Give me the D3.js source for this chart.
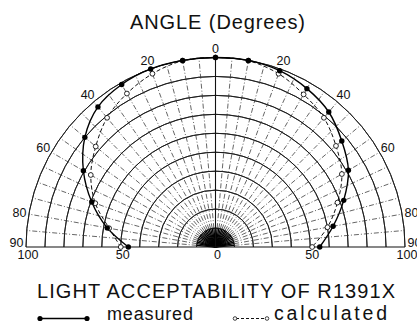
<!DOCTYPE html>
<html>
<head>
<meta charset="utf-8">
<script src="https://cdn.jsdelivr.net/npm/d3@7"></script>
<style>
  html, body { margin: 0; padding: 0; background: #fff; }
  svg { display: block; }
  text { font-family: "Liberation Sans", Arial, Helvetica, sans-serif; fill: #111; }
</style>
</head>
<body>
<script>
// Polar acceptability data: angle from normal (degrees, left side negative) and relative value.
const angles     = [-90, -80, -70, -60, -50, -40, -30, -20, -10, 0, 10, 20, 30, 40, 50, 60, 70, 80, 90];
const measured   = [46, 58, 69.5, 80.5, 90, 96.5, 99, 100, 100, 100, 100, 99, 96.5, 93, 87, 81, 72, 63, 55];
const calculated = [50, 57, 67.5, 76, 82.5, 89, 93.5, 97.3, 99.8, 100, 99.8, 97.3, 93, 89, 83, 77, 68.5, 60, 51];

const angleTicks  = [-90, -80, -60, -40, -20, 0, 20, 40, 60, 80, 90];
const radiusTicks = [-100, -50, 0, 50, 100];

const W = 417, H = 324;
const cx = 215.5, cy = 247;

const svg = d3.select("body").append("svg").attr("width", W).attr("height", H);

const r = d3.scaleLinear().domain([0, 100]).range([0, 189.5]);
const toRad = d => d * Math.PI / 180;
const px = (a, v) => cx + r(v) * Math.sin(toRad(a));
const py = (a, v) => cy - r(v) * Math.cos(toRad(a));

const g = svg.append("g");

// Concentric rings every 10 units
const rings = d3.range(10, 101, 10);
g.selectAll("path.ring").data(rings).enter().append("path")
  .attr("class", "ring")
  .attr("transform", `translate(${cx},${cy})`)
  .attr("d", v => d3.arc()({innerRadius: r(v), outerRadius: r(v), startAngle: -Math.PI / 2, endAngle: Math.PI / 2}))
  .attr("fill", "none").attr("stroke", "#1a1a1a").attr("stroke-width", 0.9);

// Radial spokes every 5 degrees
const spokes = d3.range(-85, 86, 5);
// inner solid part converges into a dark hub
g.selectAll("line.hub").data(spokes).enter().append("line")
  .attr("x1", cx).attr("y1", cy)
  .attr("x2", a => px(a, 10)).attr("y2", a => py(a, 10))
  .attr("stroke", "#000").attr("stroke-width", 1.3);
g.selectAll("line.spoke").data(spokes.filter(a => a !== 0)).enter().append("line")
  .attr("x1", a => px(a, 10)).attr("y1", a => py(a, 10))
  .attr("x2", a => px(a, 100)).attr("y2", a => py(a, 100))
  .attr("stroke", "#333").attr("stroke-width", 0.75)
  .attr("stroke-dasharray", "5,2,1,2");
// vertical 0-degree axis
g.append("line")
  .attr("x1", cx).attr("y1", cy).attr("x2", px(0, 100)).attr("y2", py(0, 100))
  .attr("stroke", "#111").attr("stroke-width", 1.1);
// baseline (90 degrees both sides)
g.append("line")
  .attr("x1", px(-90, 100)).attr("y1", cy).attr("x2", px(90, 100)).attr("y2", cy)
  .attr("stroke", "#111").attr("stroke-width", 1.2);

// Angle labels around the outer ring
g.selectAll("text.ang").data(angleTicks).enter().append("text")
  .attr("class", "ang")
  .attr("x", a => px(a, 105))
  .attr("y", a => Math.min(py(a, 105), cy - 5) + 4.5)
  .attr("text-anchor", "middle")
  .attr("font-size", 12.5)
  .text(a => Math.abs(a));

// Radial value labels along the baseline
g.selectAll("text.rad").data(radiusTicks).enter().append("text")
  .attr("class", "rad")
  .attr("x", v => cx + r(v) + 2)
  .attr("y", 259)
  .attr("text-anchor", "middle")
  .attr("font-size", 12.5)
  .text(v => Math.abs(v));

// Series curves
const pairs = (vals) => angles.map((a, i) => [toRad(a), r(vals[i])]);
const radialLine = d3.lineRadial().curve(d3.curveCatmullRom.alpha(0.5));

const plot = svg.append("g").attr("transform", `translate(${cx},${cy})`);
plot.append("path")
  .attr("d", radialLine(pairs(calculated)))
  .attr("fill", "none").attr("stroke", "#111").attr("stroke-width", 1)
  .attr("stroke-dasharray", "4,2.5");
plot.append("path")
  .attr("d", radialLine(pairs(measured)))
  .attr("fill", "none").attr("stroke", "#000").attr("stroke-width", 1.4);

// Markers: open circles for calculated, filled dots for measured
svg.selectAll("circle.calc").data(angles).enter().append("circle")
  .attr("class", "calc")
  .attr("cx", (a, i) => px(a, calculated[i])).attr("cy", (a, i) => py(a, calculated[i]))
  .attr("r", 2.4).attr("fill", "#fff").attr("stroke", "#111").attr("stroke-width", 0.9);
svg.selectAll("circle.meas").data(angles).enter().append("circle")
  .attr("class", "meas")
  .attr("cx", (a, i) => px(a, measured[i])).attr("cy", (a, i) => py(a, measured[i]))
  .attr("r", 2.7).attr("fill", "#000");

// Titles
svg.append("text")
  .attr("x", 130).attr("y", 29)
  .attr("font-size", 20)
  .attr("textLength", 175).attr("lengthAdjust", "spacing")
  .text("ANGLE (Degrees)");

svg.append("text")
  .attr("x", 37).attr("y", 297.5)
  .attr("font-size", 20)
  .attr("textLength", 358).attr("lengthAdjust", "spacing")
  .text("LIGHT ACCEPTABILITY OF R1391X");

// Legend
const ly = 318.5;
svg.append("line").attr("x1", 40).attr("x2", 87).attr("y1", ly).attr("y2", ly)
  .attr("stroke", "#000").attr("stroke-width", 1.4);
svg.selectAll("circle.lm").data([40, 87]).enter().append("circle")
  .attr("cx", d => d).attr("cy", ly).attr("r", 2.6).attr("fill", "#000");
svg.append("text").attr("x", 107).attr("y", 320).attr("font-size", 18)
  .attr("textLength", 86).attr("lengthAdjust", "spacing").text("measured");

svg.append("line").attr("x1", 236).attr("x2", 266).attr("y1", ly).attr("y2", ly)
  .attr("stroke", "#111").attr("stroke-width", 1).attr("stroke-dasharray", "3,2");
svg.selectAll("circle.lc").data([235, 267]).enter().append("circle")
  .attr("cx", d => d).attr("cy", ly).attr("r", 1.8)
  .attr("fill", "#fff").attr("stroke", "#111").attr("stroke-width", 0.8);
svg.append("text").attr("x", 274).attr("y", 320).attr("font-size", 19.5)
  .attr("textLength", 113).attr("lengthAdjust", "spacing").text("calculated");
</script>
</body>
</html>
